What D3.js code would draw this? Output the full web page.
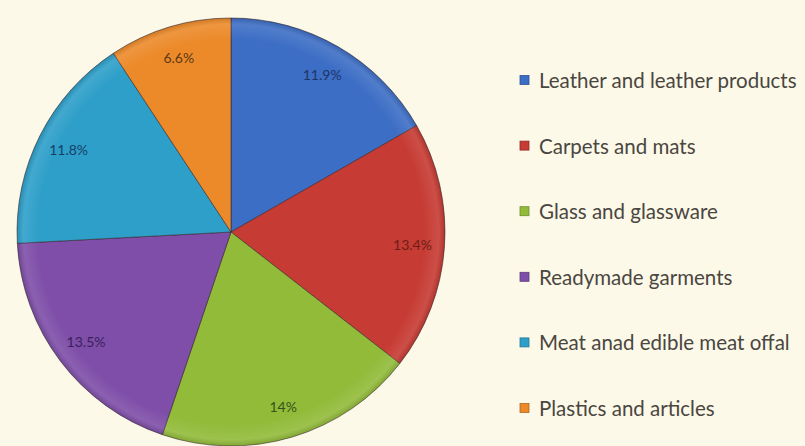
<!DOCTYPE html>
<html>
<head>
<meta charset="utf-8">
<script src="https://cdn.jsdelivr.net/npm/d3@7/dist/d3.min.js"></script>
<style>
  html, body { margin: 0; padding: 0; background: #fcf9e9; }
  svg { display: block; }
</style>
</head>
<body>
<svg id="chart" width="805" height="446"></svg>
<script>
// Export share by product group (percent)
const categories = [
  "Leather and leather products",
  "Carpets and mats",
  "Glass and glassware",
  "Readymade garments",
  "Meat anad edible meat offal",
  "Plastics and articles"
];
const shares = [11.9, 13.4, 14, 13.5, 11.8, 6.6];
const shareLabels = ["11.9%", "13.4%", "14%", "13.5%", "11.8%", "6.6%"];

const sliceColors = ["#3d6ec5", "#c63b33", "#92bb3a", "#7e4ea8", "#2e9fc9", "#ec8a2a"];
const labelColors = ["#1d3468", "#6e1d18", "#38521a", "#3a1f5e", "#173f66", "#5e3a12"];

const svg = d3.select("#chart");
const W = 805, H = 446;
svg.append("rect").attr("width", W).attr("height", H).attr("fill", "#fcf9e9");

const cx = 231, cy = 232, R = 214;

const data = categories.map((c, i) => ({ name: c, value: shares[i], label: shareLabels[i], i }));

const pie = d3.pie().sort(null).value(d => d.value);
const arc = d3.arc().innerRadius(0).outerRadius(R);
const labelArc = d3.arc().innerRadius(R * 0.85).outerRadius(R * 0.85);

const color = d3.scaleOrdinal().domain(categories).range(sliceColors);
const textColor = d3.scaleOrdinal().domain(categories).range(labelColors);

// soft rim shading on the pie, centred on the group origin
const defs = svg.append("defs");
const shade = defs.append("radialGradient").attr("id", "shade")
  .attr("gradientUnits", "userSpaceOnUse")
  .attr("cx", 0).attr("cy", 0).attr("r", R);
shade.append("stop").attr("offset", "0%").attr("stop-color", "#fff").attr("stop-opacity", 0.0);
shade.append("stop").attr("offset", "90%").attr("stop-color", "#fff").attr("stop-opacity", 0.0);
shade.append("stop").attr("offset", "97%").attr("stop-color", "#fff").attr("stop-opacity", 0.1);
shade.append("stop").attr("offset", "100%").attr("stop-color", "#000").attr("stop-opacity", 0.12);

const g = svg.append("g").attr("transform", `translate(${cx},${cy})`);
const arcs = pie(data);

g.selectAll("path.slice").data(arcs).join("path")
  .attr("class", "slice")
  .attr("d", arc)
  .attr("fill", d => color(d.data.name))
  .attr("stroke", "rgba(50,35,40,0.55)")
  .attr("stroke-width", 1);

g.selectAll("path.shade").data(arcs).join("path")
  .attr("class", "shade")
  .attr("d", arc)
  .attr("fill", "url(#shade)");

g.selectAll("text.pct").data(arcs).join("text")
  .attr("class", "pct")
  .attr("transform", d => `translate(${labelArc.centroid(d)})`)
  .attr("text-anchor", "middle")
  .attr("dominant-baseline", "central")
  .attr("font-family", "Lato, 'Open Sans', sans-serif")
  .attr("font-size", 14)
  .attr("fill", d => textColor(d.data.name))
  .text(d => d.data.label);

// legend
const legendY = d3.scalePoint().domain(categories).range([80, 408]);
const legend = svg.append("g");
const items = legend.selectAll("g").data(categories).join("g")
  .attr("transform", d => `translate(520,${legendY(d)})`);
items.append("rect")
  .attr("x", 0).attr("y", -4.5).attr("width", 9).attr("height", 9)
  .attr("fill", d => color(d))
  .attr("stroke", d => d3.color(color(d)).darker(0.8))
  .attr("stroke-width", 0.8);
items.append("text")
  .attr("x", 19).attr("y", 0)
  .attr("dominant-baseline", "central")
  .attr("font-family", "Lato, 'Open Sans', sans-serif")
  .attr("font-size", 20.5)
  .attr("fill", "#4a4640")
  .text(d => d);
</script>
</body>
</html>
